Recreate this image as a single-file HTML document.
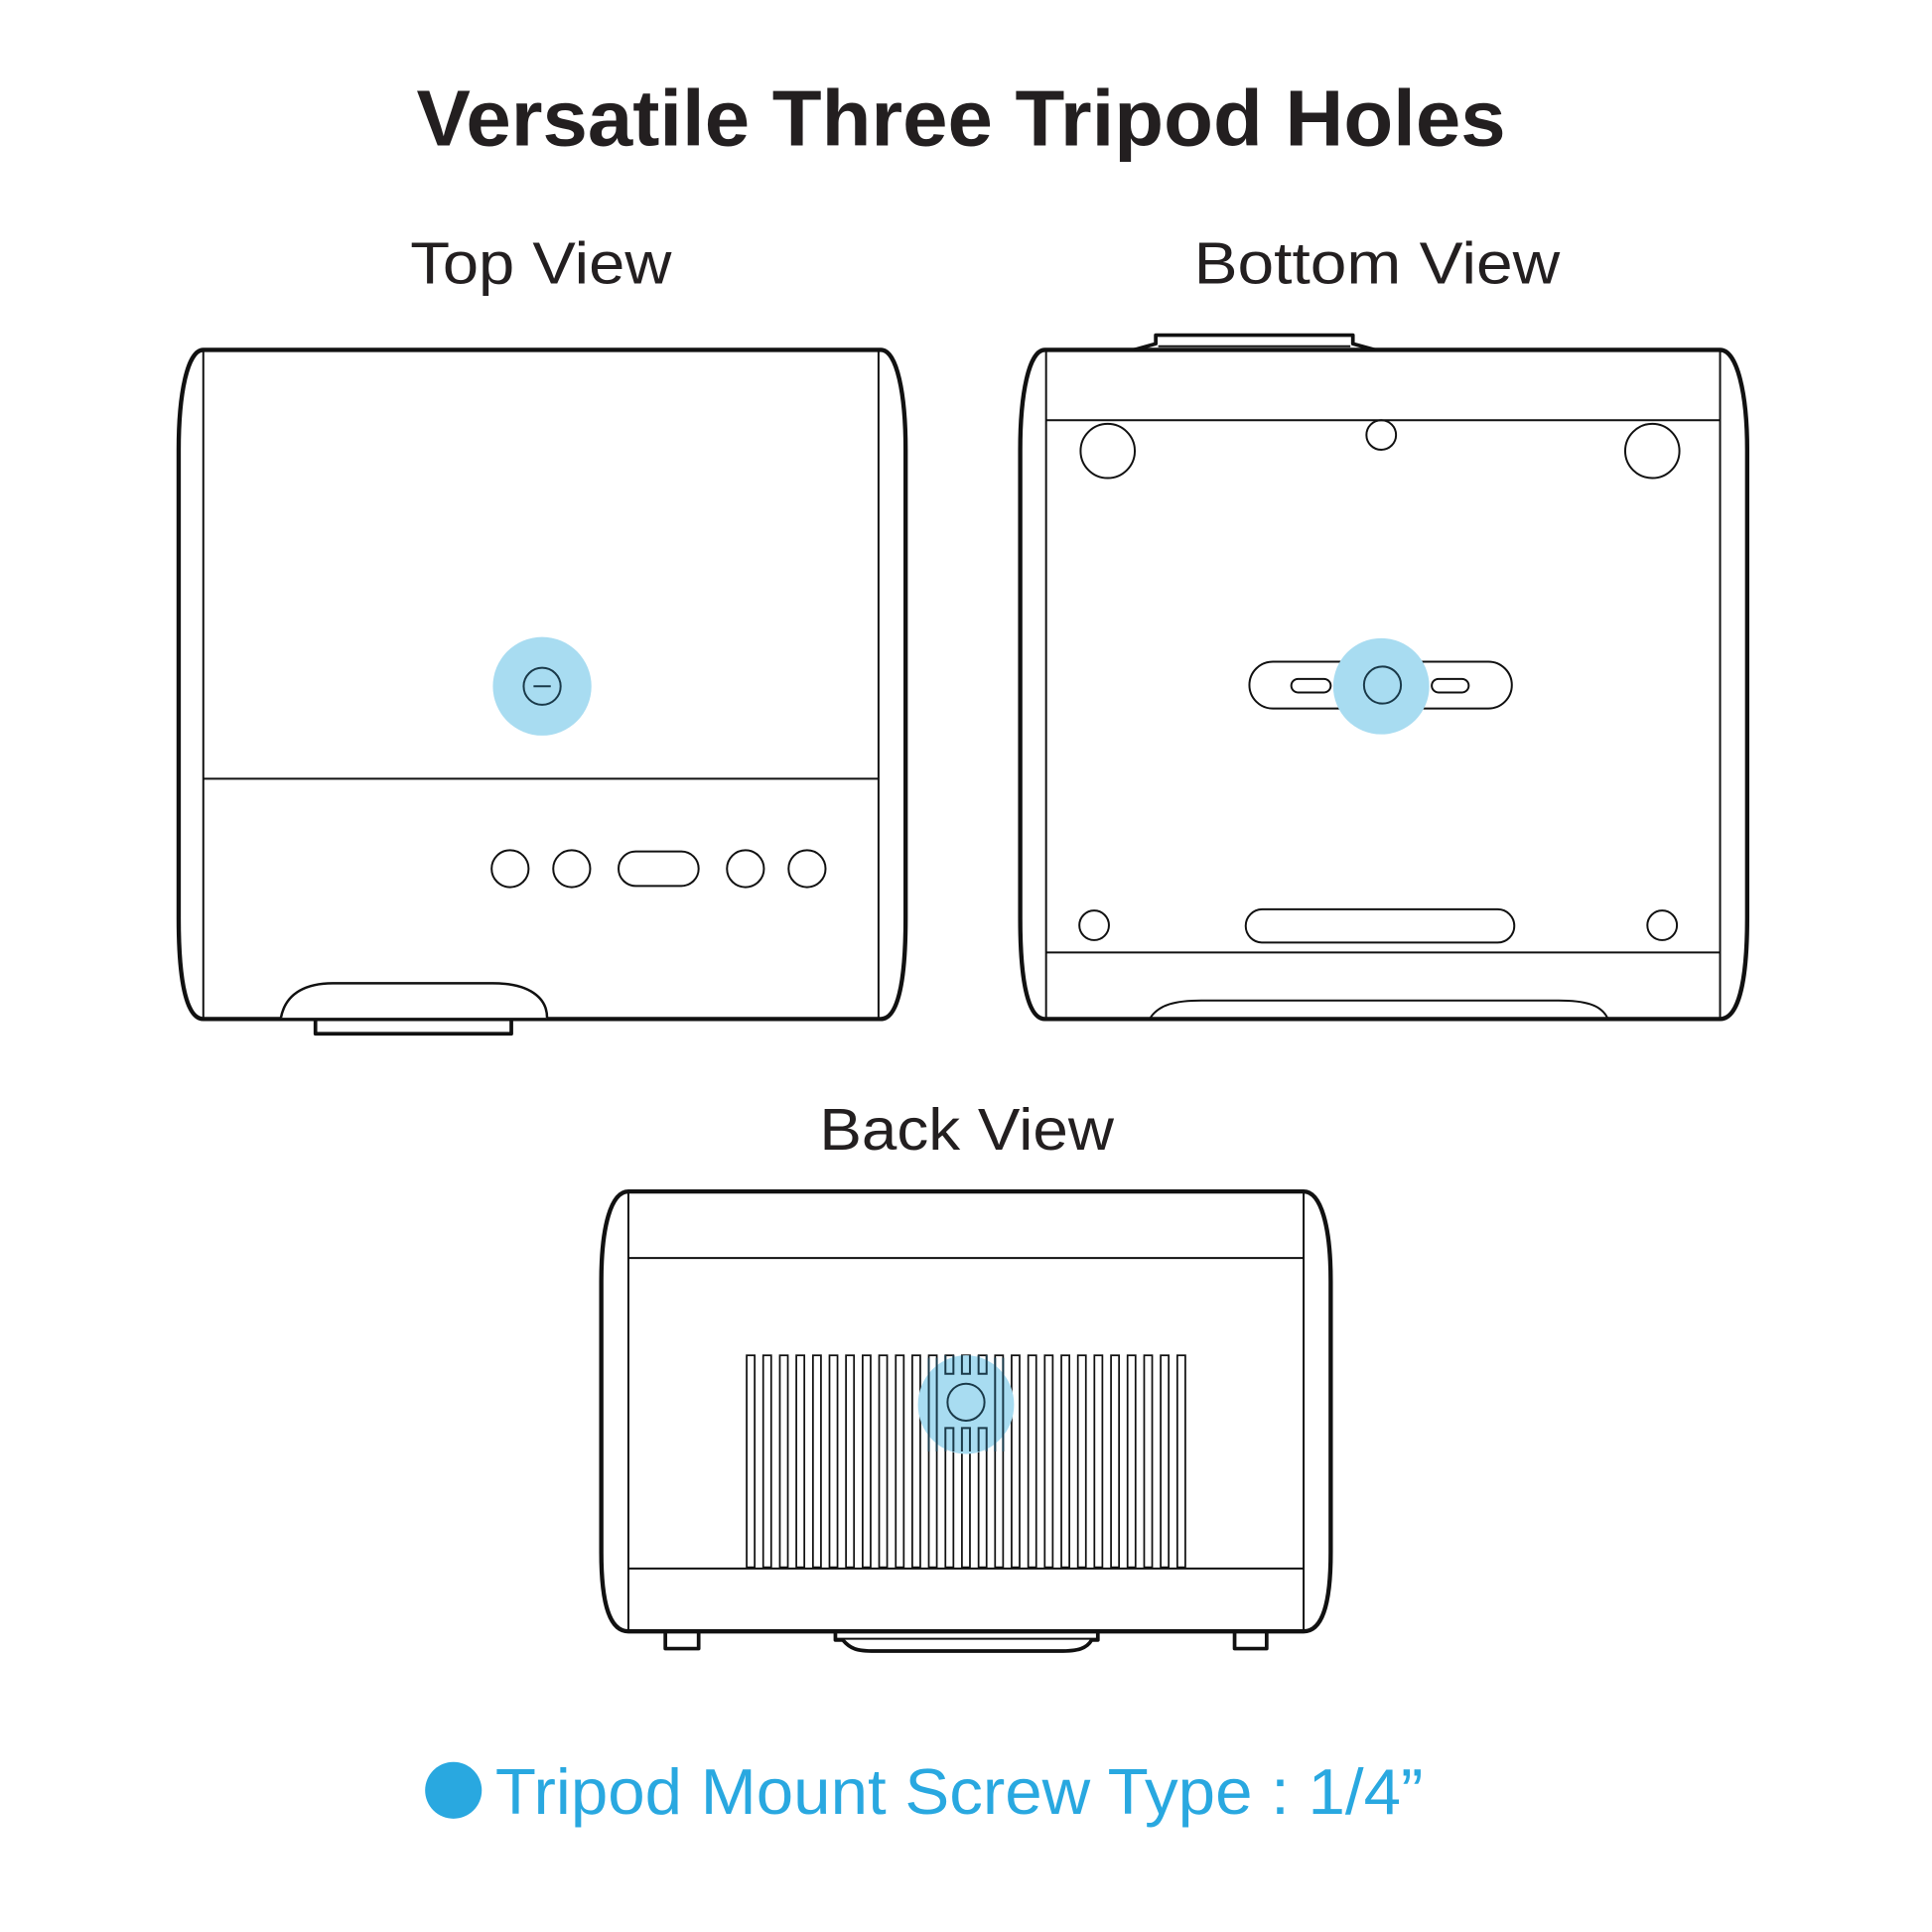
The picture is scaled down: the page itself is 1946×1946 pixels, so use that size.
<!DOCTYPE html>
<html><head><meta charset="utf-8"><style>
html,body{margin:0;padding:0;background:#fff;}
svg{display:block;}
text{font-family:"Liberation Sans",sans-serif;}
</style></head><body>
<svg width="1946" height="1946" viewBox="0 0 1568 1568" xmlns="http://www.w3.org/2000/svg">
<rect width="1568" height="1568" fill="#fff"/>
<text x="338" y="118" textLength="884" lengthAdjust="spacingAndGlyphs" font-size="64" font-weight="bold" fill="#231f20">Versatile Three Tripod Holes</text>
<text x="333" y="230" textLength="212" lengthAdjust="spacingAndGlyphs" font-size="48" fill="#231f20">Top View</text>
<text x="969" y="230" textLength="297" lengthAdjust="spacingAndGlyphs" font-size="48" fill="#231f20">Bottom View</text>
<text x="665" y="933" textLength="239" lengthAdjust="spacingAndGlyphs" font-size="48" fill="#231f20">Back View</text>

<g fill="none" stroke="#111" stroke-width="3.5" stroke-linejoin="round">
<path d="M165 284 H715 C728 284 735 320 735 365 V745 C735 800 728 827 715 827 H165 C152 827 145 800 145 745 V365 C145 320 152 284 165 284 Z"/>
<path d="M256 828 V839 H415 V828" stroke-width="3"/>
<path d="M848 284 H1396 C1410 284 1418 320 1418 365 V745 C1418 800 1410 827 1396 827 H848 C835 827 828 800 828 745 V365 C828 320 835 284 848 284 Z"/>
<path d="M920 284 L938 279 V272 H1098 V279 L1116 284" stroke-width="3"/>
<path d="M510 967 H1058 C1072 967 1080 995 1080 1040 V1260 C1080 1305 1072 1324 1058 1324 H510 C496 1324 488 1305 488 1260 V1040 C488 995 496 967 510 967 Z"/>
<path d="M540 1324 V1338 H567 V1324 M1002 1324 V1338 H1028 V1324" stroke-width="3"/>
<path d="M678 1324 V1331 H684 C690 1338 695 1340 710 1340 H860 C875 1340 882 1338 886 1331 H891 V1324" stroke-width="3"/>
</g>
<path d="M228 826 C232 805 250 798 270 798 H400 C430 798 444 810 444 826" fill="#fff" stroke="#111" stroke-width="2"/>
<g fill="none" stroke="#111" stroke-width="1.6">
<line x1="165" y1="285" x2="165" y2="826"/><line x1="713" y1="285" x2="713" y2="826"/>
<line x1="165" y1="632" x2="713" y2="632"/>
<circle cx="414" cy="705" r="15"/><circle cx="464" cy="705" r="15"/>
<circle cx="605" cy="705" r="15"/><circle cx="655" cy="705" r="15"/>
<rect x="502" y="691" width="65" height="28" rx="14"/>

<line x1="849" y1="285" x2="849" y2="826"/><line x1="1396" y1="285" x2="1396" y2="826"/>
<line x1="849" y1="341" x2="1396" y2="341"/><line x1="849" y1="773" x2="1396" y2="773"/>
<line x1="940" y1="281" x2="1096" y2="281"/>
<circle cx="899" cy="366" r="22"/><circle cx="1341" cy="366" r="22"/>
<circle cx="1121" cy="353" r="12"/><circle cx="888" cy="751" r="12"/><circle cx="1349" cy="751" r="12"/>
<rect x="1011" y="738" width="218" height="27" rx="13.5"/>
<path d="M933 827 C940 815 955 812 975 812 H1265 C1285 812 1300 815 1305 827"/>
<rect x="1014" y="537" width="213" height="38" rx="19"/>
<rect x="1048" y="551" width="32" height="11" rx="5.5"/>
<rect x="1162" y="551" width="30" height="11" rx="5.5"/>

<line x1="510" y1="968" x2="510" y2="1323"/><line x1="1058" y1="968" x2="1058" y2="1323"/>
<line x1="510" y1="1021" x2="1058" y2="1021"/><line x1="510" y1="1273" x2="1058" y2="1273"/>
<line x1="679" y1="1330" x2="890" y2="1330"/>
</g>
<g fill="#fff" stroke="#111" stroke-width="1.4">
<rect x="606" y="1100" width="6.5" height="172"/><rect x="619.4" y="1100" width="6.5" height="172"/><rect x="632.9" y="1100" width="6.5" height="172"/><rect x="646.3" y="1100" width="6.5" height="172"/><rect x="659.8" y="1100" width="6.5" height="172"/><rect x="673.2" y="1100" width="6.5" height="172"/><rect x="686.6" y="1100" width="6.5" height="172"/><rect x="700.1" y="1100" width="6.5" height="172"/><rect x="713.5" y="1100" width="6.5" height="172"/><rect x="727" y="1100" width="6.5" height="172"/><rect x="740.4" y="1100" width="6.5" height="172"/><rect x="753.8" y="1100" width="6.5" height="172"/>
<rect x="767.3" y="1100" width="6.5" height="172"/><rect x="780.7" y="1100" width="6.5" height="172"/><rect x="794.2" y="1100" width="6.5" height="172"/>
<rect x="807.6" y="1100" width="6.5" height="172"/><rect x="821" y="1100" width="6.5" height="172"/><rect x="834.5" y="1100" width="6.5" height="172"/><rect x="847.9" y="1100" width="6.5" height="172"/><rect x="861.4" y="1100" width="6.5" height="172"/><rect x="874.8" y="1100" width="6.5" height="172"/><rect x="888.2" y="1100" width="6.5" height="172"/><rect x="901.7" y="1100" width="6.5" height="172"/><rect x="915.1" y="1100" width="6.5" height="172"/><rect x="928.6" y="1100" width="6.5" height="172"/><rect x="942" y="1100" width="6.5" height="172"/><rect x="955.5" y="1100" width="6.5" height="172"/>
</g>
<g fill="#a8dcf1">
<circle cx="440" cy="557" r="40"/>
<circle cx="1121" cy="557" r="39"/>
<ellipse cx="784" cy="1140" rx="39" ry="40"/>
</g>
<g fill="none" stroke="#1a3a4a" stroke-width="1.6">
<circle cx="440" cy="557" r="15"/><line x1="433" y1="557" x2="447" y2="557"/>
<circle cx="1122" cy="556" r="15"/>
<circle cx="784" cy="1138" r="15" fill="#a8dcf1"/>
<path d="M767.3 1100 V1115 H773.8 V1100 M780.7 1100 V1115 H787.2 V1100 M794.2 1100 V1115 H800.7 V1100"/>
<path d="M767.3 1178 V1159 H773.8 V1178 M780.7 1178 V1159 H787.2 V1178 M794.2 1178 V1159 H800.7 V1178"/>
<line x1="753.8" y1="1102" x2="753.8" y2="1178"/><line x1="760.3" y1="1102" x2="760.3" y2="1178"/>
<line x1="807.6" y1="1102" x2="807.6" y2="1178"/><line x1="814.1" y1="1102" x2="814.1" y2="1178"/>
</g>
<circle cx="368" cy="1453" r="23" fill="#29a8e0"/>
<text x="402" y="1472" textLength="753" lengthAdjust="spacingAndGlyphs" font-size="52" fill="#29a8e0">Tripod Mount Screw Type : 1/4”</text>
</svg>
</body></html>
